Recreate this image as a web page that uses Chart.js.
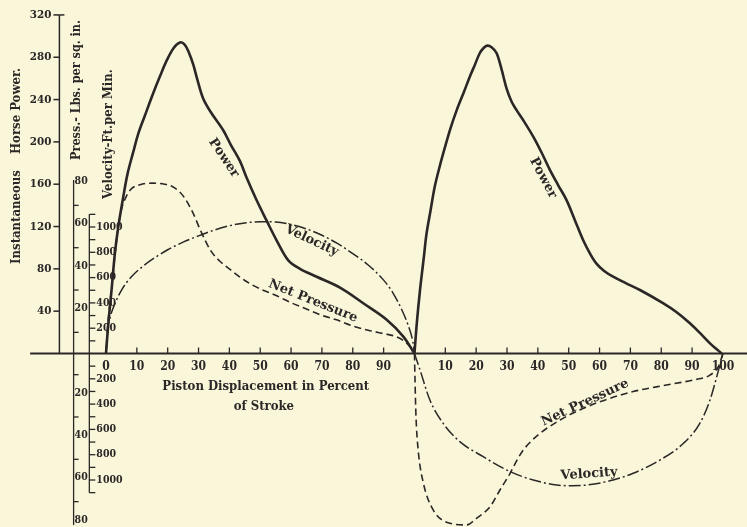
<!DOCTYPE html>
<html>
<head>
<meta charset="utf-8">
<script src="https://cdn.jsdelivr.net/npm/chart.js@4.4.1/dist/chart.umd.min.js"></script>
<style>
  html, body { margin: 0; padding: 0; background: #f9f6da; }
  #wrap { width: 747px; height: 527px; position: relative; }
</style>
</head>
<body>
<div id="wrap"><canvas id="myChart"></canvas></div>
<script>
"use strict";

// piston displacement (%), second stroke drawn as 100..200
const power_x1 = [0, 0.75, 1.8, 2.9, 4, 5.6, 7, 8.8, 10.5, 12.5, 15.3, 17.5, 19.7, 22, 24, 25.5, 26.8, 28.3, 29.6, 31.5, 34, 38, 40.5, 43.4, 45.6, 48.8, 52, 55.3, 59.1, 62.9, 68.3, 76, 83.4, 91, 96.4, 100];
const power_hp1 = [0, 28, 60, 95, 120, 148, 170, 190, 208, 224, 246, 262, 277, 289, 294, 292, 285, 273, 259, 241, 228, 211, 197, 182, 166, 145, 126, 107, 88, 80, 72.5, 62, 47.5, 32, 16, 0];

const power_x2 = [100, 100.8, 101.8, 103, 103.9, 105.2, 106.6, 108.2, 109.9, 111.7, 113.7, 116, 118, 119.6, 121.2, 122.5, 123.6, 125, 126.6, 128.2, 129.9, 131.5, 133.1, 135.8, 138.5, 141.2, 143.9, 146.6, 149.3, 152, 154.7, 157, 159, 161.5, 164.4, 168.5, 173.1, 180.7, 185, 189.3, 193, 195.8, 198, 199.6];
const power_hp2 = [0, 30, 60, 90, 113, 135, 158, 177, 195, 213, 230, 247, 262, 273, 284, 289, 291, 289.5, 284, 269, 250, 238, 230, 218, 205, 190, 173.5, 159, 145, 126, 107, 94, 85, 78, 72.6, 66.5, 60, 47.4, 39, 28.5, 18, 9.6, 4, 0];

const velocity_x1 = [0, 0.5, 1.5, 3, 5, 8, 12, 16, 20, 25, 30, 35, 40, 45, 50, 55, 60, 65, 70, 75, 80, 85, 90, 93, 96, 98, 99.5, 100];
const velocity_v1 = [0, 180, 300, 400, 500, 600, 690, 760, 820, 880, 930, 975, 1010, 1032, 1042, 1040, 1020, 985, 935, 870, 790, 700, 580, 480, 340, 220, 90, 0];

const velocity_x2 = [100, 101.8, 105, 109.3, 114.7, 122.3, 131, 138.5, 146.1, 151, 155.8, 164.4, 170.9, 179.6, 187.2, 192.5, 195.8, 198, 200];
const velocity_v2 = [0, -130, -368, -552, -697, -816, -934, -1000, -1040, -1045, -1040, -1000, -947, -842, -710, -552, -368, -183, 0];

const pressure_x1 = [0, 0.5, 1.3, 2.2, 3, 4, 5, 6.5, 8, 11, 15, 19, 22, 25, 28, 31, 34, 37, 40, 45, 50, 55, 60, 65, 70, 75, 80, 85, 90, 94, 97, 99, 100];
const pressure_p1 = [0, 12, 24, 36, 48, 60, 68, 74, 77.5, 79.8, 80.5, 80, 78.5, 74.5, 67, 57, 48.5, 43.5, 40, 34.5, 30.5, 27.5, 24, 21, 18, 15.8, 13, 11, 9.4, 8, 5.5, 2.5, 0];

const pressure_x2 = [100, 100.2, 100.5, 101.2, 102.9, 106.1, 111.5, 116.9, 120.1, 124.5, 127.7, 131, 133.2, 135.3, 138, 140.7, 147.2, 153.6, 160.1, 170.9, 181.7, 190.4, 195.8, 198.5, 200];
const pressure_p2 = [0, -14, -30, -45.6, -61.3, -74, -80.2, -81, -77.9, -72.4, -64.5, -56.6, -50.5, -45.6, -41.2, -37.7, -31.4, -26.7, -22.8, -18, -14.9, -12.5, -10.2, -6.2, 0];

// tick labels
const x_tick_marks = [10, 20, 30, 40, 50, 60, 70, 80, 90, 110, 120, 130, 140, 150, 160, 170, 180, 190];
const x_label_values = [0, 10, 20, 30, 40, 50, 60, 70, 80, 90, 110, 120, 130, 140, 150, 160, 170, 180, 190, 200];
const x_labels = ['0', '10', '20', '30', '40', '50', '60', '70', '80', '90', '10', '20', '30', '40', '50', '60', '70', '80', '90', '100'];
const hp_ticks = [40, 80, 120, 160, 200, 240, 280, 320];
const press_ticks = [-80, -70, -60, -50, -40, -30, -20, -10, 10, 20, 30, 40, 50, 60, 70, 80];
const press_labels = [-80, -60, -40, -20, 20, 40, 60, 80];
const velocity_ticks = [-1100, -1000, -900, -800, -700, -600, -500, -400, -300, -200, -100, 100, 200, 300, 400, 500, 600, 700, 800, 900, 1000, 1100];
const velocity_labels = [-1000, -800, -600, -400, -200, 200, 400, 600, 800, 1000];

const ink = '#2d2626';
const paper = '#f9f6da';
const serif_c = '"DejaVu Serif Condensed", "DejaVu Serif", serif';

function pairs(xs, ys) {
  return xs.map((v, i) => ({ x: v, y: ys[i] }));
}

function stroke_line(ctx, x1, y1, x2, y2) {
  ctx.beginPath();
  ctx.moveTo(x1, y1);
  ctx.lineTo(x2, y2);
  ctx.stroke();
}

function draw_text(ctx, text, px, py, angle, font, align) {
  ctx.save();
  ctx.translate(px, py);
  ctx.rotate(angle * Math.PI / 180);
  ctx.font = font;
  ctx.textAlign = align || 'center';
  ctx.textBaseline = 'middle';
  ctx.fillText(text, 0, 0);
  ctx.restore();
}

// axes and notes, drawn the old way
const old_axes = {
  id: 'old_axes',
  beforeDraw(chart) {
    const ctx = chart.ctx;
    ctx.save();
    ctx.fillStyle = paper;
    ctx.fillRect(0, 0, chart.width, chart.height);
    ctx.restore();
  },
  beforeDatasetsDraw(chart) {
    const { ctx, scales } = chart;
    const sx = scales.x, hp = scales.y, pr = scales.yP, ve = scales.yV;
    const y0 = hp.getPixelForValue(0);
    ctx.save();
    ctx.strokeStyle = ink;
    ctx.fillStyle = ink;

    // base line + ticks
    ctx.lineWidth = 2;
    stroke_line(ctx, sx.getPixelForValue(-24.6), y0, chart.width, y0);
    ctx.lineWidth = 1.3;
    x_tick_marks.forEach(v => {
      const px = sx.getPixelForValue(v);
      stroke_line(ctx, px, y0, px, y0 - 6);
    });
    x_label_values.forEach((v, i) => {
      draw_text(ctx, x_labels[i], sx.getPixelForValue(v), y0 + 13, 0, 'bold 12px ' + serif_c);
    });
    draw_text(ctx, 'Piston Displacement in Percent', sx.getPixelForValue(51.8), 387, 0, 'bold 13px ' + serif_c);
    draw_text(ctx, 'of Stroke', sx.getPixelForValue(51.2), 407, 0, 'bold 13px ' + serif_c);

    // horse power axis
    const hx = sx.getPixelForValue(-15.1);
    ctx.lineWidth = 1.5;
    stroke_line(ctx, hx, y0, hx, hp.getPixelForValue(320));
    stroke_line(ctx, hx, hp.getPixelForValue(320), hx + 5, hp.getPixelForValue(320));
    hp_ticks.forEach(v => {
      const py = hp.getPixelForValue(v);
      stroke_line(ctx, hx - 6, py, hx, py);
      draw_text(ctx, String(v), hx - 8, py, 0, 'bold 11.5px ' + serif_c, 'right');
    });

    // pressure axis
    const px_ = sx.getPixelForValue(-10.5);
    ctx.lineWidth = 1.3;
    stroke_line(ctx, px_, pr.getPixelForValue(-81), px_, pr.getPixelForValue(82));
    press_ticks.forEach(v => {
      const py = pr.getPixelForValue(v);
      if (press_labels.indexOf(v) < 0) stroke_line(ctx, px_, py, px_ + 5, py);
    });
    press_labels.forEach(v => {
      draw_text(ctx, String(Math.abs(v)), px_ + 1, pr.getPixelForValue(v) - 3, 0, 'bold 10.5px ' + serif_c, 'left');
    });

    // velocity axis
    const vx = sx.getPixelForValue(-5.4);
    stroke_line(ctx, vx, ve.getPixelForValue(-1100), vx, ve.getPixelForValue(1100));
    velocity_ticks.forEach(v => {
      const py = ve.getPixelForValue(v);
      stroke_line(ctx, vx, py, vx + 6, py);
    });
    velocity_labels.forEach(v => {
      draw_text(ctx, String(Math.abs(v)), vx + 7, ve.getPixelForValue(v), 0, 'bold 10.5px ' + serif_c, 'left');
    });

    // axis titles
    draw_text(ctx, 'Instantaneous', 17, 217, -90, 'bold 13px ' + serif_c);
    draw_text(ctx, 'Horse Power.', 17, 111, -90, 'bold 13px ' + serif_c);
    draw_text(ctx, 'Press.- Lbs. per sq. in.', 77, 90, -90, 'bold 12.5px ' + serif_c);
    draw_text(ctx, 'Velocity-Ft.per Min.', 109, 134, -90, 'bold 13px ' + serif_c);

    // curve names
    const note_font = 'bold 13px "DejaVu Serif", serif';
    [['Power', 38.2, 184.8, 56], ['Power', 141.7, 165.9, 62],
     ['Velocity', 66.7, 106.5, 25], ['Net Pressure', 67.1, 49.5, 22],
     ['Net Pressure', 155.3, -46.5, -25], ['Velocity', 156.6, -113.9, -4]].forEach(n => {
      draw_text(ctx, n[0], sx.getPixelForValue(n[1]), hp.getPixelForValue(n[2]), n[3], note_font);
    });
    ctx.restore();
  }
};

function line_set(data, axis, width, dash, smooth) {
  return {
    data: data,
    yAxisID: axis,
    borderColor: ink,
    borderWidth: width,
    borderDash: dash,
    pointRadius: 0,
    fill: false,
    clip: false,
    tension: smooth ? 0.35 : 0,
    cubicInterpolationMode: smooth ? 'default' : 'monotone'
  };
}

const dash_press = [7, 4];
const dash_velo = [12, 3, 2, 3];

const config = {
  type: 'line',
  data: {
    datasets: [
      line_set(pairs(pressure_x1, pressure_p1), 'yP', 1.6, dash_press, false),
      line_set(pairs(pressure_x2, pressure_p2), 'yP', 1.6, dash_press, false),
      line_set(pairs(velocity_x1, velocity_v1), 'yV', 1.5, dash_velo, false),
      line_set(pairs(velocity_x2, velocity_v2), 'yV', 1.5, dash_velo, false),
      line_set(pairs(power_x1, power_hp1), 'y', 2.6, [], true),
      line_set(pairs(power_x2, power_hp2), 'y', 2.6, [], true)
    ]
  },
  options: {
    responsive: true,
    maintainAspectRatio: false,
    animation: false,
    layout: { padding: 0, autoPadding: false },
    plugins: { legend: { display: false }, tooltip: { enabled: false } },
    scales: {
      x: { type: 'linear', display: false, min: -34.36, max: 207.8 },
      y: { type: 'linear', display: false, min: -164.0, max: 334.1 },
      yP: { type: 'linear', display: false, min: -81.99, max: 167.06 },
      yV: { type: 'linear', display: false, min: -1371.5, max: 2794.5 }
    }
  },
  plugins: [old_axes]
};

const myChart = new Chart(document.getElementById('myChart'), config);
</script>
</body>
</html>
